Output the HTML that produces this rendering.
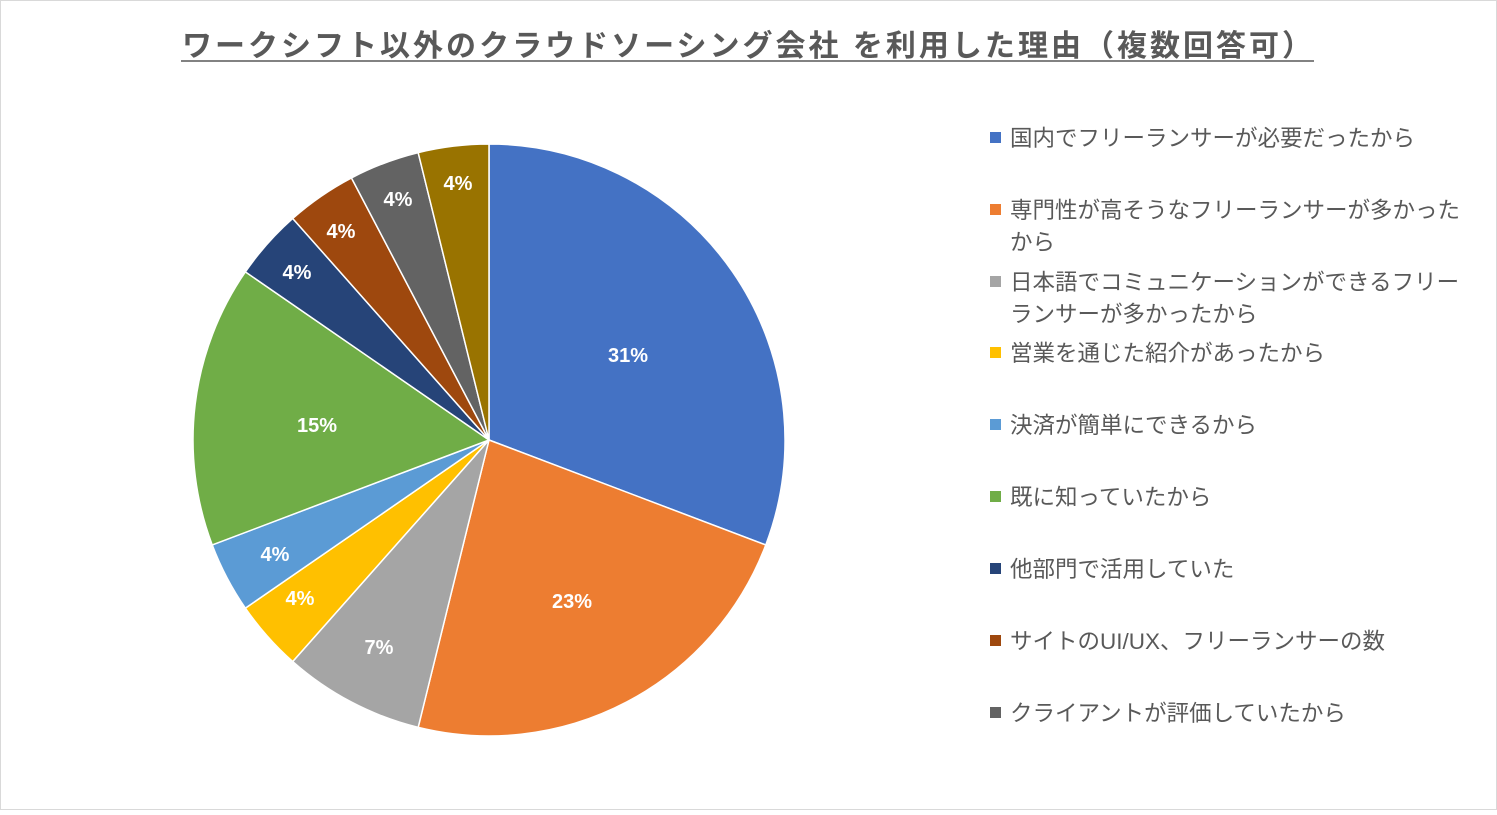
<!DOCTYPE html>
<html><head><meta charset="utf-8"><style>
html,body{margin:0;padding:0;background:#fff;}
body{width:1497px;height:810px;overflow:hidden;}
svg text{font-family:"Liberation Sans","Noto Sans CJK JP",sans-serif;}
</style></head><body>
<svg id="s" width="1497" height="810" xmlns="http://www.w3.org/2000/svg">
<rect x="0.5" y="0.5" width="1496" height="809" fill="#fff" stroke="#d9d9d9"/>
<text x="182" y="56" font-size="30" font-weight="bold" fill="#595959" textLength="1130" lengthAdjust="spacing">ワークシフト以外のクラウドソーシング会社 を利用した理由（複数回答可）</text>
<line x1="181" y1="61" x2="1314" y2="61" stroke="#595959" stroke-width="1.5"/>
<g id="pie"></g>
<g font-size="20" font-weight="bold" fill="#fff" text-anchor="middle">
<text x="628" y="362">31%</text>
<text x="572" y="608">23%</text>
<text x="379" y="654">7%</text>
<text x="300" y="605">4%</text>
<text x="275" y="561">4%</text>
<text x="317" y="432">15%</text>
<text x="297" y="279">4%</text>
<text x="341" y="238">4%</text>
<text x="398" y="206">4%</text>
<text x="458" y="190">4%</text>
</g>
<g font-size="22.5" fill="#595959">
<rect x="990" y="132" width="11" height="11" fill="#4472C4"/><text x="1010" y="146">国内でフリーランサーが必要だったから</text>
<rect x="990" y="204" width="11" height="11" fill="#ED7D31"/><text x="1010" y="218">専門性が高そうなフリーランサーが多かった</text><text x="1010" y="250">から</text>
<rect x="990" y="276" width="11" height="11" fill="#A5A5A5"/><text x="1010" y="290">日本語でコミュニケーションができるフリー</text><text x="1010" y="322">ランサーが多かったから</text>
<rect x="990" y="347" width="11" height="11" fill="#FFC000"/><text x="1010" y="361">営業を通じた紹介があったから</text>
<rect x="990" y="419" width="11" height="11" fill="#5B9BD5"/><text x="1010" y="433">決済が簡単にできるから</text>
<rect x="990" y="491" width="11" height="11" fill="#70AD47"/><text x="1010" y="505">既に知っていたから</text>
<rect x="990" y="563" width="11" height="11" fill="#264478"/><text x="1010" y="577">他部門で活用していた</text>
<rect x="990" y="635" width="11" height="11" fill="#9E480E"/><text x="1010" y="649">サイトのUI/UX、フリーランサーの数</text>
<rect x="990" y="707" width="11" height="11" fill="#636363"/><text x="1010" y="721">クライアントが評価していたから</text>
</g>
</svg>
<script>
var v=[8,6,2,1,1,4,1,1,1,1],c=["#4472C4","#ED7D31","#A5A5A5","#FFC000","#5B9BD5","#70AD47","#264478","#9E480E","#636363","#997300"];
var cx=489,cy=440,r=296,t=26,a=0,g=document.getElementById("pie"),h="";
for(var i=0;i<v.length;i++){var b=a+v[i]/t*2*Math.PI;
var x1=cx+r*Math.sin(a),y1=cy-r*Math.cos(a),x2=cx+r*Math.sin(b),y2=cy-r*Math.cos(b);
h+='<path d="M'+cx+','+cy+' L'+x1+','+y1+' A'+r+','+r+' 0 '+((b-a)>Math.PI?1:0)+' 1 '+x2+','+y2+' Z" fill="'+c[i]+'" stroke="#fff" stroke-width="1.5"/>';a=b;}
g.innerHTML=h;
</script>
</body></html>
